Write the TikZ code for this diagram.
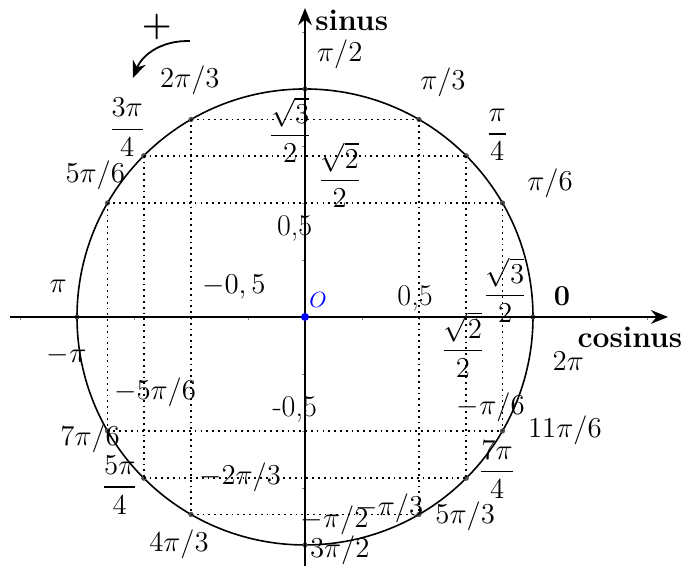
\documentclass[tikz,border=0pt]{standalone}
\usepackage{xcolor}
\usepackage{amsmath}
\usepackage{tikz}
\usetikzlibrary{arrows.meta}

\begin{document}
\begin{tikzpicture}[>={Stealth[length=3mm,width=2.4mm]},
        lbl/.style={font=\fontsize{15}{18}\selectfont, inner sep=1pt},
        axis/.style={line width=1pt, ->},
        grid line/.style={dotted, line width=0.9pt}]
        \useasboundingbox (-5.351,-4.368) rectangle (6.614,5.561);
        % axes and ticks
        \coordinate (xmin) at (-5.18,0);
        \coordinate (xmax) at (6.37,0);
        \coordinate (ymin) at (0,-4.37);
        \coordinate (ymax) at (0,5.42);
        \foreach \t in {-5,...,6} \draw[black!50, line width=0.4pt] (\t,0) -- (\t,-0.06);
        \foreach \t in {-4,...,5} \draw[black!50, line width=0.4pt] (0,\t) -- (-0.06,\t);
        % circle and its points
        \draw[line width=0.8pt] (0,0) circle (4);
        \foreach \a in {0,30,45,60,90,120,135,150,180,210,225,240,270,300,315,330} {
            \coordinate (p\a) at (\a:4);
            \fill[black!70] (p\a) circle (1.3pt);
        }
        \foreach \u/\v in {150/30, 135/45, 120/60, 210/330, 225/315, 240/300,
                           120/240, 135/225, 150/210, 60/300, 45/315, 30/330}
            \draw[grid line] (p\u) -- (p\v);
        \draw[axis] (xmin) -- (xmax);
        \draw[axis] (ymin) -- (ymax);
        \coordinate (O) at (0,0);
        \fill[blue] (O) circle (2pt);
        % axis names
        \node[lbl, font=\fontsize{15}{18}\selectfont\bfseries] (sin) at (0.82,5.21) {sinus};
        \node[lbl, font=\fontsize{15}{18}\selectfont\bfseries] (cos) at (5.70,-0.35) {cosinus};
        \node[lbl, font=\fontsize{11}{13}\selectfont] (orig) at (0.23,0.30) {\textcolor{blue}{$O$}};
        % direction of rotation
        \node[lbl, font=\fontsize{17}{20}\selectfont\bfseries] (plus) at (-2.60,5.09) {+};
        \coordinate (rotA) at (-2.02,4.84);
        \coordinate (rotB) at (-3.02,4.19);
        \draw[->, line width=0.9pt] (rotA) to[bend right=35] (rotB);
        % angles
        \node[lbl] (a0) at (4.51,0.37) {$\mathbf{0}$};
        \node[lbl] (a2pi) at (4.62,-0.78) {$2\pi$};
        \node[lbl] (a30) at (4.30,2.35) {$\pi/6$};
        \node[lbl] (a45) at (3.37,3.19) {$\dfrac{\pi}{4}$};
        \node[lbl] (a60) at (2.42,4.12) {$\pi/3$};
        \node[lbl] (a90) at (0.61,4.60) {$\pi/2$};
        \node[lbl] (a120) at (-2.02,4.16) {$2\pi/3$};
        \node[lbl] (a135) at (-3.12,3.33) {$\dfrac{3\pi}{4}$};
        \node[lbl] (a150) at (-3.68,2.49) {$5\pi/6$};
        \node[lbl] (a180) at (-4.33,0.53) {$\pi$};
        \node[lbl] (am180) at (-4.18,-0.67) {$-\pi$};
        \node[lbl] (am150) at (-2.63,-1.33) {$-5\pi/6$};
        \node[lbl] (a210) at (-3.77,-2.12) {$7\pi/6$};
        \node[lbl] (a225) at (-3.25,-2.95) {$\dfrac{5\pi}{4}$};
        \node[lbl] (am120) at (-1.14,-2.81) {$-2\pi/3$};
        \node[lbl] (a240) at (-2.21,-3.98) {$4\pi/3$};
        \node[lbl] (am90) at (0.52,-3.56) {$-\pi/2$};
        \node[lbl] (a270) at (0.61,-4.09) {$3\pi/2$};
        \node[lbl] (am60) at (1.48,-3.35) {$-\pi/3$};
        \node[lbl] (a300) at (2.81,-3.49) {$5\pi/3$};
        \node[lbl] (a315) at (3.37,-2.68) {$\dfrac{7\pi}{4}$};
        \node[lbl] (am30) at (3.26,-1.58) {$-\pi/6$};
        \node[lbl] (a330) at (4.56,-1.98) {$11\pi/6$};
        % values
        \node[lbl] (s60) at (-0.26,3.28) {$\dfrac{\sqrt{3}}{2}$};
        \node[lbl] (s45) at (0.61,2.49) {$\dfrac{\sqrt{2}}{2}$};
        \node[lbl] (s30) at (-0.18,1.56) {0,5};
        \node[lbl] (sm30) at (-0.18,-1.63) {-0,5};
        \node[lbl] (cm60) at (-1.25,0.53) {$-0,5$};
        \node[lbl] (c60) at (1.93,0.33) {0,5};
        \node[lbl] (c30) at (3.51,0.47) {$\dfrac{\sqrt{3}}{2}$};
        \node[lbl] (c45) at (2.77,-0.49) {$\dfrac{\sqrt{2}}{2}$};
\end{tikzpicture}
\end{document}
